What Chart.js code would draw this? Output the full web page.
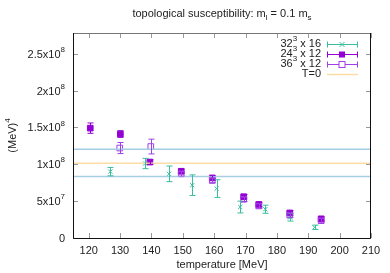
<!DOCTYPE html>
<html>
<head>
<meta charset="utf-8">
<script src="https://cdn.jsdelivr.net/npm/chart.js@4"></script>
<style>
  html, body { margin: 0; padding: 0; background: #fff; }
  #wrap { width: 390px; height: 273px; }
</style>
</head>
<body>
<div id="wrap"><canvas id="topoChart"></canvas></div>
<script>
// 32^3 x 16
const tempA = [126.9, 138.0, 145.6, 153.0, 160.8, 168.3, 176.3, 184.2, 192.0];
const chiA  = [0.90e8, 1.01e8, 0.87e8, 0.716e8, 0.67e8, 0.42e8, 0.39e8, 0.28e8, 0.145e8];
const errA  = [0.057e8, 0.07e8, 0.106e8, 0.14e8, 0.12e8, 0.08e8, 0.055e8, 0.05e8, 0.03e8];

// 24^3 x 12
const tempB = [120.5, 130.1, 139.5, 149.5, 159.4, 169.4, 174.2, 184.1, 194.1];
const chiB  = [1.49e8, 1.41e8, 1.03e8, 0.905e8, 0.815e8, 0.56e8, 0.455e8, 0.34e8, 0.26e8];
const errB  = [0.07e8, 0.045e8, 0.03e8, 0.03e8, 0.03e8, 0.03e8, 0.03e8, 0.03e8, 0.03e8];

// 36^3 x 12
const tempC = [129.9, 139.8, 149.5, 159.4, 169.4, 174.2, 184.1, 194.1];
const chiC  = [1.22e8, 1.24e8, 0.87e8, 0.78e8, 0.525e8, 0.435e8, 0.31e8, 0.235e8];
const errC  = [0.075e8, 0.1e8, 0.03e8, 0.03e8, 0.03e8, 0.03e8, 0.03e8, 0.03e8];

// T=0 value and its band
const t0Value = 1.015e8;
const t0Lower = 0.835e8;
const t0Upper = 1.205e8;

const xTicks = [120, 130, 140, 150, 160, 170, 180, 190, 200, 210];
const yTicks = [0, 5e7, 1e8, 1.5e8, 2e8, 2.5e8];
const yTickBase = ['0', '5x10', '1x10', '1.5x10', '2x10', '2.5x10'];
const yTickExp  = ['', '7', '8', '8', '8', '8'];

const legendNames = ['32', '24', '36', 'T=0'];

const green = 'rgb(58,189,158)';
const purple = '#9400d3';
const purpleOpen = '#a23fe6';
const bandBlue = 'rgb(166,206,227)';
const t0Orange = 'rgb(252,221,165)';
const FONT = '"Liberation Sans", Arial, sans-serif';

const toPoints = (xs, ys) => xs.map((x, i) => ({ x: x, y: ys[i] }));
const flat = (v) => [{ x: 115, y: v }, { x: 210, y: v }];

// draws normal text plus raised/lowered small parts
function richText(ctx, parts, x, y, align) {
    let w = 0;
    parts.forEach(p => {
        ctx.font = (p.small ? 8 : 11) + 'px ' + FONT;
        w += ctx.measureText(p.t).width;
    });
    let cx = align === 'right' ? x - w : (align === 'center' ? x - w / 2 : x);
    ctx.textAlign = 'left';
    ctx.textBaseline = 'middle';
    parts.forEach(p => {
        ctx.font = (p.small ? 8 : 11) + 'px ' + FONT;
        ctx.fillText(p.t, cx, y + (p.dy || 0));
        cx += ctx.measureText(p.t).width;
    });
}

const errorBars = {
    id: 'errorBars',
    afterDatasetsDraw(chart) {
        const ctx = chart.ctx;
        const xs = chart.scales.x, ys = chart.scales.y;
        const sets = [[tempA, chiA, errA, green], [tempB, chiB, errB, purple], [tempC, chiC, errC, purpleOpen]];
        ctx.save();
        ctx.lineWidth = 1;
        sets.forEach(([tx, cy, ey, col]) => {
            ctx.strokeStyle = col;
            tx.forEach((t, i) => {
                const px = Math.round(xs.getPixelForValue(t)) + 0.5;
                const lo = ys.getPixelForValue(cy[i] - ey[i]);
                const hi = ys.getPixelForValue(cy[i] + ey[i]);
                ctx.beginPath();
                ctx.moveTo(px, lo); ctx.lineTo(px, hi);
                ctx.moveTo(px - 3, lo); ctx.lineTo(px + 3, lo);
                ctx.moveTo(px - 3, hi); ctx.lineTo(px + 3, hi);
                ctx.stroke();
            });
        });
        ctx.restore();
    }
};

const frame = {
    id: 'frame',
    afterDraw(chart) {
        const ctx = chart.ctx;
        const a = chart.chartArea;
        const xs = chart.scales.x, ys = chart.scales.y;
        ctx.save();
        // ticks, inward on all four sides
        ctx.strokeStyle = '#999';
        ctx.lineWidth = 1;
        ctx.beginPath();
        xTicks.forEach(t => {
            const px = Math.round(xs.getPixelForValue(t)) + 0.5;
            ctx.moveTo(px, a.bottom); ctx.lineTo(px, a.bottom - 5);
            ctx.moveTo(px, a.top); ctx.lineTo(px, a.top + 5);
        });
        yTicks.forEach(v => {
            const py = Math.round(ys.getPixelForValue(v)) + 0.5;
            ctx.moveTo(a.left, py); ctx.lineTo(a.left + 5, py);
            ctx.moveTo(a.right, py); ctx.lineTo(a.right - 5, py);
        });
        ctx.stroke();
        // border
        ctx.strokeStyle = '#777';
        ctx.beginPath();
        ctx.moveTo(a.left, a.top + 0.5); ctx.lineTo(a.right, a.top + 0.5);
        ctx.stroke();
        ctx.strokeStyle = '#111';
        ctx.beginPath();
        ctx.moveTo(a.left + 0.5, a.top); ctx.lineTo(a.left + 0.5, a.bottom + 0.5);
        ctx.lineTo(a.right - 0.5, a.bottom + 0.5); ctx.lineTo(a.right - 0.5, a.top);
        ctx.stroke();

        ctx.fillStyle = '#222';
        // x tick labels
        xTicks.forEach(t => {
            richText(ctx, [{ t: String(t) }], xs.getPixelForValue(t), a.bottom + 13, 'center');
        });
        // y tick labels
        yTicks.forEach((v, i) => {
            const parts = [{ t: yTickBase[i] }];
            if (yTickExp[i]) parts.push({ t: yTickExp[i], small: true, dy: -5 });
            richText(ctx, parts, a.left - 8, ys.getPixelForValue(v) + 1, 'right');
        });
        // title
        richText(ctx, [
            { t: 'topological susceptibility: m' }, { t: 'l', small: true, dy: 4 },
            { t: ' = 0.1 m' }, { t: 's', small: true, dy: 4 }
        ], (a.left + a.right) / 2, 14, 'center');
        // x axis title
        richText(ctx, [{ t: 'temperature [MeV]' }], (a.left + a.right) / 2, 265, 'center');
        // y axis title
        ctx.save();
        ctx.translate(13, (a.top + a.bottom) / 2);
        ctx.rotate(-Math.PI / 2);
        richText(ctx, [{ t: '(MeV)' }, { t: '4', small: true, dy: -5 }], 0, 0, 'center');
        ctx.restore();

        // legend
        const textRight = 321, x0 = 327, x1 = 358, xm = 342;
        const rows = [44, 54, 64, 74];
        const labelParts = [
            [{ t: legendNames[0] }, { t: '3', small: true, dy: -5 }, { t: ' x 16' }],
            [{ t: legendNames[1] }, { t: '3', small: true, dy: -5 }, { t: ' x 12' }],
            [{ t: legendNames[2] }, { t: '3', small: true, dy: -5 }, { t: ' x 12' }],
            [{ t: legendNames[3] }]
        ];
        const cols = [green, purple, purpleOpen, t0Orange];
        rows.forEach((ry, i) => {
            ctx.fillStyle = '#222';
            richText(ctx, labelParts[i], textRight, ry, 'right');
            const yy = ry + 0.5;
            ctx.strokeStyle = cols[i];
            ctx.lineWidth = i === 3 ? 1.5 : 1;
            ctx.beginPath();
            ctx.moveTo(x0, yy); ctx.lineTo(x1, yy);
            if (i < 3) {
                ctx.moveTo(x0 + 0.5, yy - 3); ctx.lineTo(x0 + 0.5, yy + 3);
                ctx.moveTo(x1 - 0.5, yy - 3); ctx.lineTo(x1 - 0.5, yy + 3);
            }
            ctx.stroke();
            if (i === 0) {
                ctx.beginPath();
                ctx.moveTo(xm - 2.5, yy - 2.5); ctx.lineTo(xm + 2.5, yy + 2.5);
                ctx.moveTo(xm - 2.5, yy + 2.5); ctx.lineTo(xm + 2.5, yy - 2.5);
                ctx.stroke();
            } else if (i === 1) {
                ctx.fillStyle = purple;
                ctx.fillRect(xm - 3, yy - 3, 6, 6);
            } else if (i === 2) {
                ctx.fillStyle = '#fff';
                ctx.fillRect(xm - 3, yy - 3, 6, 6);
                ctx.strokeRect(xm - 3, yy - 3, 6, 6);
            }
        });
        ctx.restore();
    }
};

const ctx = document.getElementById('topoChart');
new Chart(ctx, {
    type: 'scatter',
    data: {
        datasets: [
            { type: 'line', data: flat(t0Upper), borderColor: bandBlue, borderWidth: 1.5, pointRadius: 0 },
            { type: 'line', data: flat(t0Lower), borderColor: bandBlue, borderWidth: 1.5, pointRadius: 0 },
            { type: 'line', data: flat(t0Value), borderColor: t0Orange, borderWidth: 1.5, pointRadius: 0 },
            { data: toPoints(tempA, chiA), pointStyle: 'crossRot', pointRadius: 3, borderColor: green, borderWidth: 1 },
            { data: toPoints(tempC, chiC), pointStyle: 'rect', pointRadius: 4, borderColor: purpleOpen, backgroundColor: 'rgba(255,255,255,0)', borderWidth: 1 },
            { data: toPoints(tempB, chiB), pointStyle: 'rect', pointRadius: 4, borderColor: purple, backgroundColor: purple, borderWidth: 1 }
        ]
    },
    options: {
        responsive: true,
        maintainAspectRatio: false,
        animation: false,
        events: [],
        layout: { padding: { top: 33, right: 19, left: 0, bottom: 0 } },
        scales: {
            x: {
                type: 'linear', min: 115, max: 210,
                grid: { display: false }, border: { display: false },
                ticks: { display: false },
                afterFit: (s) => { s.height = 35; }
            },
            y: {
                type: 'linear', min: 0, max: 2.78e8,
                grid: { display: false }, border: { display: false },
                ticks: { display: false },
                afterFit: (s) => { s.width = 73; }
            }
        },
        plugins: {
            legend: { display: false },
            tooltip: { enabled: false }
        }
    },
    plugins: [errorBars, frame]
});
</script>
</body>
</html>
